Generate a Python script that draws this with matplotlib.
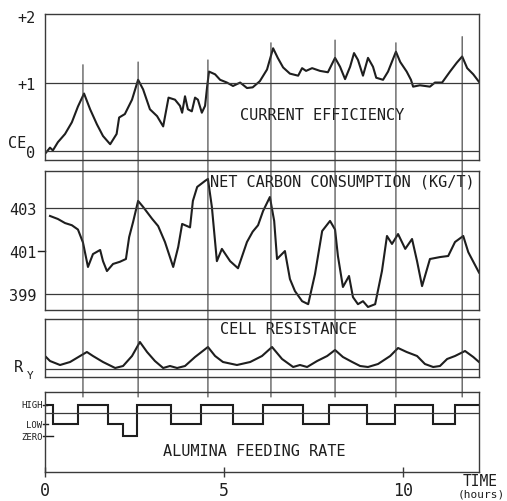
#! /bin/python
# Aluminium cell - four stacked process traces vs time

import matplotlib.pyplot as plt
from matplotlib.patches import ConnectionPatch
import numpy as np

# ---- data ----
# current efficiency
ce_time = [0.0, 0.14, 0.22, 0.36, 0.56, 0.75, 0.92, 1.09, 1.26, 1.45, 1.62, 1.82,
           2.0, 2.07, 2.23, 2.43, 2.6, 2.74, 2.93, 3.13, 3.3, 3.45, 3.63, 3.77,
           3.83, 3.91, 3.99, 4.1, 4.19, 4.27, 4.38, 4.47, 4.53, 4.58, 4.75, 4.89,
           5.08, 5.25, 5.45, 5.64, 5.8, 6.0, 6.2, 6.37, 6.5, 6.65, 6.84, 7.07,
           7.18, 7.29, 7.46, 7.68, 7.9, 8.1, 8.24, 8.38, 8.52, 8.63, 8.74, 8.88,
           9.02, 9.16, 9.25, 9.44, 9.58, 9.8, 9.92, 10.1, 10.22, 10.28, 10.47,
           10.75, 10.89, 11.09, 11.31, 11.5, 11.65, 11.79, 11.96, 12.12]
ce_value = [-0.04, 0.05, 0.01, 0.13, 0.25, 0.42, 0.65, 0.84, 0.61, 0.39, 0.22, 0.10,
            0.25, 0.49, 0.54, 0.75, 1.04, 0.90, 0.61, 0.51, 0.36, 0.78, 0.75, 0.66,
            0.56, 0.80, 0.61, 0.58, 0.78, 0.75, 0.56, 0.66, 0.95, 1.16, 1.12, 1.04,
            1.0, 0.95, 1.0, 0.92, 0.93, 1.02, 1.19, 1.5, 1.36, 1.22, 1.13, 1.1,
            1.21, 1.17, 1.21, 1.17, 1.15, 1.36, 1.23, 1.05, 1.23, 1.43, 1.33, 1.1,
            1.36, 1.23, 1.07, 1.04, 1.16, 1.45, 1.3, 1.16, 1.04, 0.94, 0.96,
            0.94, 1.0, 1.0, 1.16, 1.29, 1.38, 1.21, 1.12, 1.01]

# net carbon consumption (kg/t)
nc_time = [0.14, 0.36, 0.56, 0.75, 0.92, 1.06, 1.2, 1.34, 1.54, 1.62, 1.73, 1.9,
           2.09, 2.26, 2.35, 2.46, 2.6, 2.74, 2.99, 3.16, 3.35, 3.58, 3.72, 3.83,
           4.05, 4.13, 4.25, 4.47, 4.55, 4.66, 4.8, 4.94, 5.17, 5.39, 5.64, 5.8,
           5.95, 6.09, 6.28, 6.4, 6.48, 6.7, 6.84, 6.98, 7.18, 7.35, 7.54, 7.74,
           7.96, 8.1, 8.18, 8.32, 8.49, 8.6, 8.74, 8.88, 9.02, 9.22, 9.41, 9.55,
           9.69, 9.86, 10.06, 10.25, 10.39, 10.53, 10.75, 11.03, 11.26, 11.45,
           11.68, 11.82, 12.12]
nc_value = [402.63, 402.49, 402.3, 402.2, 402.0, 401.4, 400.26, 400.86, 401.05,
            400.53, 400.07, 400.4, 400.5, 400.63, 401.65, 402.35, 403.33, 403.05,
            402.5, 402.16, 401.42, 400.26, 401.19, 402.26, 402.1, 403.33, 403.98,
            404.26, 404.35, 403.05, 400.53, 401.1, 400.53, 400.2, 401.42, 401.9,
            402.2, 402.86, 403.51, 402.4, 400.63, 401.0, 399.7, 399.14, 398.67,
            398.53, 399.93, 401.93, 402.4, 402.0, 400.77, 399.33, 399.84, 398.86,
            398.53, 398.67, 398.4, 398.53, 400.07, 401.7, 401.33, 401.79, 401.1,
            401.56, 400.53, 399.37, 400.63, 400.72, 400.77, 401.42, 401.7, 400.95,
            400.0]

# cell resistance (arbitrary units)
rc_time = [0.0, 0.14, 0.42, 0.7, 0.98, 1.17, 1.34, 1.62, 1.96, 2.18, 2.43, 2.65,
           2.85, 3.07, 3.3, 3.49, 3.69, 3.91, 4.19, 4.55, 4.75, 4.97, 5.36, 5.73,
           6.06, 6.34, 6.62, 6.93, 7.12, 7.32, 7.6, 7.88, 8.1, 8.32, 8.58, 8.8,
           9.02, 9.3, 9.64, 9.86, 10.1, 10.39, 10.61, 10.84, 11.03, 11.23, 11.45,
           11.73, 11.96, 12.12]
rc_value = [1.3, 0.8, 0.4, 0.7, 1.3, 1.7, 1.3, 0.7, 0.1, 0.3, 1.3, 2.7,
            1.7, 0.8, 0.1, 0.3, 0.1, 0.3, 1.2, 2.2, 1.3, 0.7, 0.4, 0.7,
            1.3, 2.2, 1.0, 0.2, 0.4, 0.2, 0.8, 1.3, 1.9, 1.2, 0.7, 0.3,
            0.2, 0.5, 1.3, 2.1, 1.7, 1.3, 0.5, 0.2, 0.3, 1.0, 1.3,
            1.8, 1.2, 0.7]

# alumina feeding rate (step function)
feed_level = {'HIGH': 3.1, 'LOW': 1.2, 'ZERO': 0.0}
feed_edges = [0, 0.22, 0.92, 1.76, 2.18, 2.57, 3.52, 4.36, 5.25, 6.09, 7.21,
              7.93, 8.99, 9.78, 10.84, 11.45, 12.12]
feed_state = ['HIGH', 'LOW', 'HIGH', 'LOW', 'ZERO', 'HIGH', 'LOW', 'HIGH', 'LOW',
              'HIGH', 'LOW', 'HIGH', 'LOW', 'HIGH', 'LOW', 'HIGH']

# event markers (vertical lines through all panels)
mark_time = [1.06, 2.6, 4.55, 6.31, 8.1, 9.8, 11.65]
mark_top = [1.26, 1.30, 1.33, 1.58, 1.62, 1.58, 1.67]   # in CE units

# ---- styling ----
ink = '#1e1e1e'
frame = '#3a3a3a'
plt.rcParams['font.family'] = 'DejaVu Sans Mono'
plt.rcParams['axes.edgecolor'] = frame
plt.rcParams['axes.linewidth'] = 1.0
plt.rcParams['text.color'] = ink
plt.rcParams['xtick.color'] = ink
plt.rcParams['ytick.color'] = ink
plt.rcParams['lines.solid_joinstyle'] = 'round'

fig = plt.figure(figsize=(5.07, 5.02), dpi=100)
W, H = 507.0, 502.0
x0, x1 = 45, 479

def panel(top, bottom):
    return fig.add_axes([x0 / W, 1 - bottom / H, (x1 - x0) / W, (bottom - top) / H])

ax1 = panel(15, 161)
ax2 = panel(172, 311)
ax3 = panel(320, 378)
ax4 = panel(393, 473)

xmax = 12.12
for ax in (ax1, ax2, ax3, ax4):
    ax.set_xlim(0, xmax)
    ax.set_xticks([])
    ax.tick_params(axis='y', length=0, labelsize=11)

# Panel 1 - current efficiency
ax1.plot(ce_time, ce_value, color=ink, lw=1.5)
ax1.axhline(1, color=frame, lw=0.9)
ax1.axhline(0, color=frame, lw=0.9)
ax1.set_ylim(-0.13, 2.0)
ax1.set_yticks([0, 1, 1.97], ['0', '+1', '+2'])
ax1.tick_params(axis='y', pad=7)
ax1.text(-0.065, 0.13, 'CE', transform=ax1.get_yaxis_transform(),
         ha='center', va='center', fontsize=11)
ax1.text(5.45, 0.54, 'CURRENT EFFICIENCY', ha='left', va='center', fontsize=11)

# Panel 2 - net carbon consumption
ax2.plot(nc_time, nc_value, color=ink, lw=1.5)
ax2.axhline(403, color=frame, lw=0.9)
ax2.axhline(399, color=frame, lw=0.9)
ax2.set_ylim(398.26, 404.72)
ax2.set_yticks([399, 401, 403], ['399', '401', '403'])
ax2.tick_params(axis='y', pad=6)
ax2.plot([-0.015, 0.0], [401, 401], color=ink, lw=1.0, clip_on=False,
         transform=ax2.get_yaxis_transform())
ax2.text(4.6, 404.26, 'NET CARBON CONSUMPTION (KG/T)', ha='left', va='center',
         fontsize=11)

# Panel 3 - cell resistance
ax3.plot(rc_time, rc_value, color=ink, lw=1.5)
ax3.axhline(0, color=frame, lw=0.9)
ax3.set_ylim(-0.8, 5.0)
ax3.set_yticks([])
ax3.text(-0.062, 0.3, 'R', transform=ax3.get_yaxis_transform(),
         ha='center', va='center', fontsize=11)
ax3.text(-0.035, -0.6, 'Y', transform=ax3.get_yaxis_transform(),
         ha='center', va='center', fontsize=8)
ax3.text(4.89, 4.0, 'CELL RESISTANCE', ha='left', va='center', fontsize=11)

# Panel 4 - alumina feeding rate
feed_vals = [feed_level[s] for s in feed_state]
ax4.stairs(feed_vals, feed_edges, color=ink, lw=1.5, baseline=None)
ax4.axhline(2.3, color=frame, lw=0.9)
ax4.set_ylim(-3.6, 4.4)
ax4.set_yticks([])
for name, tick_end in (('HIGH', 0.004), ('LOW', 0.007), ('ZERO', 0.018)):
    ax4.text(-0.006, feed_level[name], name, transform=ax4.get_yaxis_transform(),
             ha='right', va='center', fontsize=6.5)
    ax4.plot([-0.005, tick_end], [feed_level[name]] * 2, color=ink, lw=1.0,
             clip_on=False, transform=ax4.get_yaxis_transform())
ax4.text(3.3, -1.5, 'ALUMINA FEEDING RATE', ha='left', va='center', fontsize=11)

# time axis
ax4.set_xticks([0, 5, 10], ['0', '5', '10'])
ax4.tick_params(axis='x', direction='inout', length=7, width=1.0, pad=3,
                labelsize=12, color=frame)
fig.text(480 / W, 1 - 482 / H, 'TIME', ha='center', va='center', fontsize=10.5)
fig.text(481 / W, 1 - 495 / H, '(hours)', ha='center', va='center', fontsize=8)

# event markers crossing all panels
for t, top in zip(mark_time, mark_top):
    con = ConnectionPatch(xyA=(t, top), coordsA=ax1.transData,
                          xyB=(t, 3.9), coordsB=ax4.transData,
                          color=frame, lw=0.8)
    fig.add_artist(con)

plt.savefig("out.png", dpi=100)
